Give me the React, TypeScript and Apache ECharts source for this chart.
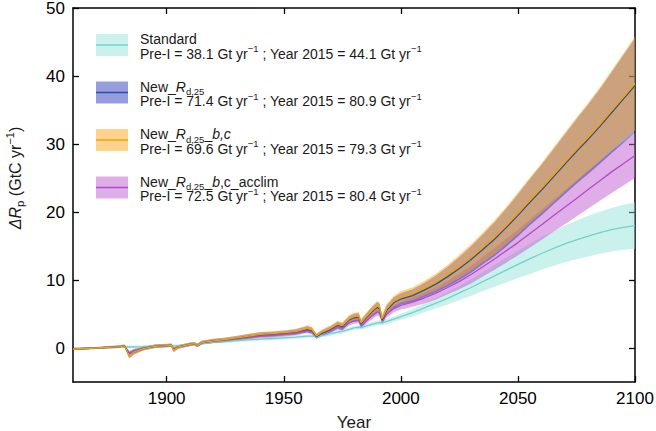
import React, { useEffect, useRef } from "react";
import * as echarts from "echarts";

const FONT = "'Liberation Sans', Arial, Helvetica, sans-serif";

const years = [
  1860, 1870, 1880, 1882, 1884, 1886, 1890, 1895, 1900, 1902,
  1903, 1905, 1910, 1912, 1913, 1915, 1920, 1925, 1930, 1935,
  1940, 1945, 1950, 1955, 1960, 1962, 1964, 1966, 1970, 1973,
  1975, 1978, 1980, 1982, 1983, 1985, 1988, 1990, 1991, 1992,
  1994, 1997, 2000, 2005, 2010, 2015, 2020, 2025, 2030, 2035,
  2040, 2045, 2050, 2055, 2060, 2065, 2070, 2075, 2080, 2085,
  2090, 2095, 2100,
];

// Standard
const stdMean = [
  -0.15, 0.0, 0.15, 0.2, 0.15, 0.15, 0.2, 0.3, 0.35, 0.4,
  0.3, 0.35, 0.5, 0.55, 0.5, 0.65, 0.85, 0.95, 1.1, 1.2,
  1.3, 1.4, 1.5, 1.6, 1.75, 1.75, 1.65, 1.8, 2.1, 2.35,
  2.45, 2.75, 2.95, 3.05, 3.0, 3.2, 3.5, 3.7, 3.75, 3.7,
  3.9, 4.25, 4.6, 5.2, 5.9, 6.6, 7.3, 8.1, 8.9, 9.75,
  10.6, 11.45, 12.3, 13.1, 13.9, 14.6, 15.3, 15.9, 16.45, 16.95,
  17.4, 17.75, 18.0,
];
const stdSpread = [
  0.1, 0.1, 0.15, 0.15, 0.2, 0.2, 0.2, 0.2, 0.2, 0.2,
  0.2, 0.2, 0.2, 0.2, 0.2, 0.2, 0.2, 0.2, 0.2, 0.2,
  0.2, 0.25, 0.25, 0.25, 0.25, 0.25, 0.25, 0.25, 0.3, 0.3,
  0.3, 0.3, 0.3, 0.3, 0.3, 0.35, 0.35, 0.35, 0.35, 0.35,
  0.4, 0.4, 0.45, 0.55, 0.65, 0.75, 0.9, 1.05, 1.2, 1.4,
  1.6, 1.8, 2.0, 2.2, 2.4, 2.55, 2.7, 2.85, 3.0, 3.1,
  3.2, 3.3, 3.4,
];

// New_Rd,25
const rdMean = [
  -0.15, 0.0, 0.2, 0.3, -1.05, -0.6, -0.1, 0.25, 0.35, 0.4,
  -0.3, 0.15, 0.55, 0.65, 0.35, 0.8, 1.05, 1.2, 1.45, 1.7,
  1.95, 2.05, 2.2, 2.35, 2.75, 2.55, 1.7, 2.15, 2.75, 3.35,
  3.15, 4.15, 4.45, 4.55, 3.55, 4.35, 5.45, 6.0, 5.7, 4.1,
  5.6, 6.65, 7.2, 7.7, 8.5, 9.4, 10.5, 11.7, 13.0, 14.5,
  16.0, 17.7, 19.5, 21.4, 23.2, 25.1, 27.0, 28.9, 30.7, 32.6,
  34.6, 36.6, 38.6,
];
const rdSpread = [
  0.15, 0.15, 0.2, 0.2, 0.45, 0.35, 0.25, 0.25, 0.25, 0.25,
  0.3, 0.25, 0.25, 0.25, 0.25, 0.25, 0.3, 0.3, 0.3, 0.35,
  0.35, 0.35, 0.35, 0.4, 0.45, 0.45, 0.35, 0.4, 0.45, 0.5,
  0.5, 0.55, 0.6, 0.6, 0.55, 0.6, 0.7, 0.75, 0.75, 0.6,
  0.7, 0.8, 0.85, 0.95, 1.05, 1.25, 1.45, 1.7, 1.95, 2.2,
  2.5, 2.8, 3.1, 3.4, 3.7, 4.05, 4.4, 4.75, 5.1, 5.5,
  5.95, 6.45, 6.95,
];

// New_Rd,25_b,c
const bcMean = [
  -0.15, 0.0, 0.2, 0.3, -1.1, -0.6, -0.1, 0.25, 0.35, 0.4,
  -0.35, 0.15, 0.55, 0.65, 0.35, 0.8, 1.05, 1.25, 1.5, 1.75,
  2.0, 2.1, 2.25, 2.4, 2.9, 2.7, 1.8, 2.3, 2.9, 3.5,
  3.3, 4.3, 4.6, 4.7, 3.7, 4.5, 5.6, 6.2, 5.9, 4.3,
  5.8, 6.9, 7.5, 8.0, 8.8, 9.7, 10.8, 12.0, 13.3, 14.8,
  16.3, 18.0, 19.8, 21.7, 23.5, 25.4, 27.3, 29.2, 31.0, 32.9,
  34.9, 36.9, 38.9,
];
const bcSpread = [
  0.15, 0.15, 0.2, 0.2, 0.45, 0.35, 0.25, 0.25, 0.25, 0.25,
  0.3, 0.25, 0.25, 0.25, 0.25, 0.25, 0.3, 0.3, 0.3, 0.35,
  0.35, 0.35, 0.35, 0.4, 0.45, 0.45, 0.35, 0.4, 0.45, 0.5,
  0.5, 0.55, 0.6, 0.6, 0.55, 0.6, 0.7, 0.75, 0.75, 0.6,
  0.7, 0.8, 0.85, 0.95, 1.05, 1.25, 1.45, 1.7, 1.95, 2.2,
  2.5, 2.75, 3.05, 3.35, 3.65, 4.0, 4.35, 4.7, 5.05, 5.45,
  5.9, 6.4, 6.9,
];

// New_Rd,25_b,c_acclim
const acMean = [
  -0.15, 0.0, 0.2, 0.3, -0.75, -0.4, 0.0, 0.25, 0.35, 0.4,
  -0.15, 0.2, 0.5, 0.6, 0.35, 0.75, 1.0, 1.15, 1.35, 1.55,
  1.75, 1.85, 2.0, 2.15, 2.55, 2.4, 1.7, 2.1, 2.6, 3.1,
  2.95, 3.75, 4.0, 4.1, 3.35, 3.95, 4.8, 5.3, 5.1, 4.1,
  5.0, 5.8, 6.25, 6.75, 7.35, 8.05, 8.9, 9.8, 10.8, 11.95,
  13.1, 14.3, 15.5, 16.8, 18.1, 19.4, 20.7, 22.0, 23.3, 24.6,
  25.9, 27.1, 28.3,
];
const acSpread = [
  0.1, 0.1, 0.15, 0.15, 0.35, 0.3, 0.2, 0.2, 0.2, 0.2,
  0.25, 0.2, 0.2, 0.2, 0.2, 0.2, 0.25, 0.25, 0.25, 0.25,
  0.3, 0.3, 0.3, 0.3, 0.35, 0.35, 0.3, 0.3, 0.35, 0.4,
  0.4, 0.45, 0.45, 0.45, 0.4, 0.45, 0.5, 0.55, 0.55, 0.45,
  0.5, 0.55, 0.6, 0.7, 0.8, 0.9, 1.0, 1.15, 1.3, 1.45,
  1.6, 1.75, 1.9, 2.05, 2.2, 2.35, 2.5, 2.65, 2.8, 2.95,
  3.1, 3.2, 3.3,
];

const xTicks = [1900, 1950, 2000, 2050, 2100];
const yTicks = [0, 10, 20, 30, 40, 50];

const legendTitles = [
  "Standard",
  "New_{i|R}{sub|d,25}",
  "New_{i|R}{sub|d,25}_{i|b,c}",
  "New_{i|R}{sub|d,25}_{i|b},c_acclim",
];
const preIndustrial = ["38.1", "71.4", "69.6", "72.5"];
const year2015 = ["44.1", "80.9", "79.3", "80.4"];

const lineColors = ["#6fd3c9", "#2c4f9e", "#f5a300", "#b24cc4"];
const bandColors = [
  "rgba(140,224,214,0.45)",
  "rgba(48,58,188,0.5)",
  "rgba(255,168,30,0.5)",
  "rgba(192,92,208,0.5)",
];

const means = [stdMean, rdMean, bcMean, acMean];
const spreads = [stdSpread, rdSpread, bcSpread, acSpread];
const names = ["Standard", "New_Rd25", "New_Rd25_bc", "New_Rd25_bc_acclim"];

const bandOrder = [0, 3, 1, 2];
const lineOrder = [0, 3, 1, 2];

function richStyles(size: number, sub: number) {
  const base = { fontSize: size, fontFamily: FONT, fill: "#1a1a1a" };
  return {
    n: { ...base, lineHeight: size * 1.4 },
    i: { ...base, fontStyle: "italic", lineHeight: size * 1.4 },
    sub: { fontSize: sub, fontFamily: FONT, fill: "#1a1a1a", lineHeight: sub, verticalAlign: "bottom" },
    sup: { fontSize: sub, fontFamily: FONT, fill: "#1a1a1a", lineHeight: sub, verticalAlign: "top" },
  };
}

export default function App() {
  const ref = useRef<HTMLDivElement>(null);
  useEffect(() => {
    if (!ref.current) return;
    const chart = echarts.init(ref.current, undefined, { renderer: "svg" });

    const series: any[] = [];
    bandOrder.forEach((k) => {
      const lo = years.map((_, i) => means[k][i] - spreads[k][i]);
      const hi = years.map((_, i) => means[k][i] + spreads[k][i]);
      series.push({
        type: "custom",
        name: names[k] + "_band",
        silent: true,
        clip: true,
        data: years.map((y, i) => [y, lo[i], hi[i]]),
        encode: { x: 0, y: [1, 2] },
        renderItem: (params: any, api: any) => {
          if (params.dataIndex !== 0) return null;
          const pts: number[][] = [];
          for (let i = 0; i < years.length; i++) pts.push(api.coord([years[i], lo[i]]));
          for (let i = years.length - 1; i >= 0; i--) pts.push(api.coord([years[i], hi[i]]));
          return {
            type: "polygon",
            shape: { points: pts },
            style: { fill: bandColors[k], stroke: "none" },
          };
        },
      });
    });
    lineOrder.forEach((k) => {
      series.push({
        type: "line",
        name: names[k],
        data: years.map((y, i) => [y, means[k][i]]),
        symbol: "none",
        showSymbol: false,
        silent: true,
        lineStyle: { color: lineColors[k], width: 1.3 },
      });
    });

    const axisLine = { show: true, onZero: false, lineStyle: { color: "#000", width: 1.5 } };
    const tick = (vals: number[]) => ({
      show: true,
      inside: true,
      length: 6,
      customValues: vals,
      lineStyle: { color: "#000", width: 1.3 },
    });
    const labelStyle = {
      color: "#000",
      fontSize: 17,
      fontFamily: FONT,
      formatter: (v: number) => String(v),
    };

    const graphic: any[] = [];
    const legendTop = [34, 81.5, 129, 176.5];
    const rich14 = richStyles(14, 9.5);
    legendTitles.forEach((title, i) => {
      const T = legendTop[i];
      graphic.push({
        type: "rect",
        shape: { x: 96, y: T, width: 32, height: 22 },
        style: { fill: bandColors[i] },
        silent: true,
      });
      graphic.push({
        type: "line",
        shape: { x1: 96, y1: T + 11, x2: 128, y2: T + 11 },
        style: { stroke: lineColors[i], lineWidth: 1.5 },
        silent: true,
      });
      graphic.push({
        type: "text",
        x: 140,
        y: T + 5.3,
        silent: true,
        style: {
          text: title,
          fontSize: 14,
          fontFamily: FONT,
          fill: "#1a1a1a",
          align: "left",
          verticalAlign: "middle",
          lineHeight: 19.6,
          rich: rich14,
        },
      });
      graphic.push({
        type: "text",
        x: 140,
        y: T + 19.6,
        silent: true,
        style: {
          text:
            "Pre-I = " + preIndustrial[i] + " Gt yr{sup|\u22121} ; Year 2015 = " + year2015[i] + " Gt yr{sup|\u22121}",
          fontSize: 14,
          fontFamily: FONT,
          fill: "#1a1a1a",
          align: "left",
          verticalAlign: "middle",
          lineHeight: 19.6,
          rich: rich14,
        },
      });
    });

    const richY = {
      n: { fontSize: 16, fontFamily: FONT, fill: "#1a1a1a", lineHeight: 22 },
      i: { fontSize: 16, fontFamily: FONT, fontStyle: "italic", fill: "#1a1a1a", lineHeight: 22 },
      sub: { fontSize: 11.5, fontFamily: FONT, fill: "#1a1a1a", lineHeight: 11.5, verticalAlign: "bottom" },
      sup: { fontSize: 11, fontFamily: FONT, fill: "#1a1a1a", lineHeight: 11.5, verticalAlign: "top" },
    };
    graphic.push({
      type: "text",
      x: 15,
      y: 178,
      rotation: Math.PI / 2,
      silent: true,
      style: {
        text: "{i|\u0394R}{sub|p}{n| (GtC yr}{sup|\u22121}{n|)}",
        fontSize: 16,
        fontFamily: FONT,
        fill: "#1a1a1a",
        align: "center",
        verticalAlign: "middle",
        lineHeight: 22,
        rich: richY,
      },
    });

    chart.setOption({
      animation: false,
      backgroundColor: "#fff",
      grid: { left: 73, right: 21, top: 8, bottom: 49, containLabel: false, outerBoundsMode: "none" },
      xAxis: [
        {
          type: "value",
          position: "bottom",
          min: 1860,
          max: 2100,
          axisLine,
          axisTick: tick(xTicks),
          axisLabel: { ...labelStyle, customValues: xTicks, margin: 8 },
          splitLine: { show: false },
          name: "Year",
          nameLocation: "middle",
          nameGap: 32,
          nameTextStyle: { color: "#1a1a1a", fontSize: 17, fontFamily: FONT },
        },
        {
          type: "value",
          position: "top",
          min: 1860,
          max: 2100,
          axisLine,
          axisTick: tick(xTicks),
          axisLabel: { show: false },
          splitLine: { show: false },
        },
      ],
      yAxis: [
        {
          type: "value",
          position: "left",
          min: -5,
          max: 50,
          axisLine,
          axisTick: tick(yTicks),
          axisLabel: { ...labelStyle, customValues: yTicks, margin: 8 },
          splitLine: { show: false },
        },
        {
          type: "value",
          position: "right",
          min: -5,
          max: 50,
          axisLine,
          axisTick: tick(yTicks),
          axisLabel: { show: false },
          splitLine: { show: false },
        },
      ],
      graphic,
      series,
    });

    return () => chart.dispose();
  }, []);

  return (
    <div
      ref={ref}
      style={{ position: "fixed", left: 0, top: 0, width: 656, height: 431, background: "#fff" }}
    />
  );
}
